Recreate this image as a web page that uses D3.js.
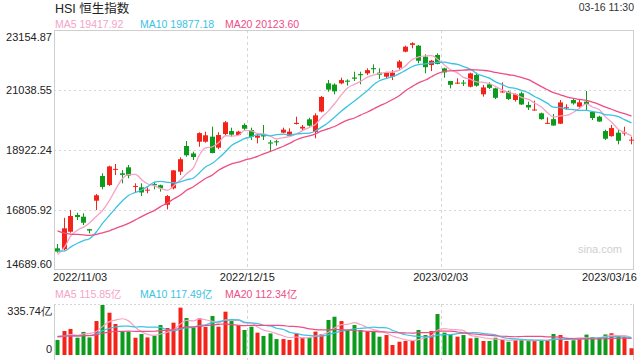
<!DOCTYPE html>
<html><head><meta charset="utf-8">
<script src="https://cdn.jsdelivr.net/npm/d3@7"></script>
<style>
html,body{margin:0;padding:0;background:#fff;}
svg{display:block;font-family:Arial,"Liberation Sans","Noto Sans CJK SC",sans-serif;}
</style></head><body>
<svg id="c" width="640" height="360"></svg>
<script>
const dates = [
"2022/11/03","2022/11/04","2022/11/07","2022/11/08","2022/11/09","2022/11/10","2022/11/11","2022/11/14","2022/11/15","2022/11/16",
"2022/11/17","2022/11/18","2022/11/21","2022/11/22","2022/11/23","2022/11/24","2022/11/25","2022/11/28","2022/11/29","2022/11/30",
"2022/12/01","2022/12/02","2022/12/05","2022/12/06","2022/12/07","2022/12/08","2022/12/09","2022/12/12","2022/12/13","2022/12/14",
"2022/12/15","2022/12/16","2022/12/19","2022/12/20","2022/12/21","2022/12/22","2022/12/23","2022/12/28","2022/12/29","2022/12/30",
"2023/01/03","2023/01/04","2023/01/05","2023/01/06","2023/01/09","2023/01/10","2023/01/11","2023/01/12","2023/01/13","2023/01/16",
"2023/01/17","2023/01/18","2023/01/19","2023/01/20","2023/01/26","2023/01/27","2023/01/30","2023/01/31","2023/02/01","2023/02/02",
"2023/02/03","2023/02/06","2023/02/07","2023/02/08","2023/02/09","2023/02/10","2023/02/13","2023/02/14","2023/02/15","2023/02/16",
"2023/02/17","2023/02/20","2023/02/21","2023/02/22","2023/02/23","2023/02/24","2023/02/27","2023/02/28","2023/03/01","2023/03/02",
"2023/03/03","2023/03/06","2023/03/07","2023/03/08","2023/03/09","2023/03/10","2023/03/13","2023/03/14","2023/03/15","2023/03/16"];

const open = [15455,15420,16040,16630,16570,16130,17134,18005,17688,18230,
18100,18311,17630,17606,17490,17720,17680,16990,17571,18158,
19063,18800,19215,19215,19392,19004,19486,19592,19451,19804,
19627,19356,19470,19190,19230,19533,19420,19840,19680,20004,
19560,20280,21274,21230,21274,21370,21480,21600,21627,21810,
21650,21508,21508,21825,22390,22630,22602,22214,21920,22273,
21802,21356,21270,21300,21155,21567,20886,21239,21097,20960,
20980,20686,20921,20509,20320,20216,19850,20010,19850,20390,
20686,20450,20627,20262,20097,19592,19410,19533,19510,19260];
const high = [15606,16530,16806,16710,16690,16140,17370,18100,18368,18428,
18217,18393,17747,17747,17606,17804,17700,17335,18217,18663,
19239,18862,19546,19568,19745,19546,19945,19709,19600,19863,
19709,19510,19804,19275,19275,19709,19686,20097,19804,20061,
20216,20827,21391,21274,21472,21415,21684,21684,21802,21944,
21802,21684,21744,22097,22602,22720,22626,22297,22097,22332,
21825,21360,21450,21391,21650,21650,21215,21309,21120,21309,
21015,20921,20980,20627,20661,20240,20074,20192,20686,20534,
20720,20686,21003,20274,20130,19640,19804,19651,19745,19392];
const low = [15300,15380,16005,16453,16277,15983,16806,17536,17651,18040,
17747,17924,17416,17300,17395,17536,17453,16830,17536,18040,
18685,18570,19038,19180,18804,18950,19451,19392,19430,19627,
19275,19157,19275,18862,19074,19510,19392,19820,19627,19745,
19334,20251,20980,20886,21240,21192,21356,21239,21567,21627,
21427,21450,21391,21744,22367,22508,21979,21627,21708,21944,
21472,21097,21250,21180,21130,21155,20803,21074,20721,20940,
20686,20627,20509,20333,20310,19990,19840,19780,19840,20350,
20520,20410,20333,19980,19921,19275,19392,19122,19427,19122];
const close = [15339,16161,16595,16557,16358,16081,17325,17619,18343,18256,
18045,18020,17655,17424,17523,17680,17573,17297,18204,18597,
18736,18675,19518,19441,18815,19450,19901,19463,19570,19673,
19380,19430,19400,19150,19192,19640,19570,19880,19741,19781,
20145,20793,21052,20991,21388,21331,21436,21560,21738,21770,
21577,21650,21650,22044,22566,22689,22069,21842,22072,21958,
21660,21222,21298,21283,21624,21190,21130,21113,20763,20987,
20719,20887,20529,20423,20351,20010,19880,19786,20600,20429,
20567,20604,20545,20051,19926,19320,19695,19248,19539,19288];
const volume = [101,161,175,116,155,118,228,335.74,284,208,
161,157,116,141,118,128,201,181,217,318,
248,184,246,188,262,190,291,228,201,168,
190,150,128,145,107,107,101,145,116,116,
157,141,235,257,228,168,201,168,157,157,
123,134,67,89,94,96,168,134,161,275,
150,139,123,134,112,116,94,94,116,101,
89,101,101,94,101,101,94,141,134,94,
99,110,137,120,120,138,146,131,120,45];

// closes / volumes of the 19 sessions before the first candle (used for the moving averages)
const priorCloses = [17740,17216,16832,16701,16389,16587,16612,16914,16512,16280,16211,15180,15165,15430,15427,14863,14687,15455,15827];
const priorVolumes = [118,125,132,120,115,128,122,119,135,126,140,152,130,121,118,112,125,138,110];

const priceTicks = [23154.87, 21038.55, 18922.24, 16805.92, 14689.60];
const volumeTicks = [335.74, 0];
const dateTicks = ["2022/11/03","2022/12/15","2023/02/03","2023/03/16"];
const title = "HSI 恒生指数";
const timeLabel = "03-16 11:30";
const maPeriods = [5, 10, 20];
const priceMALegend = ["19417.92","19877.18","20123.60"];
const volumeMALegend = ["115.85亿","117.49亿","112.34亿"];

const UP = "#f3231a", DOWN = "#0c9b1a";
const MA_COLORS = ["#f5a3c7", "#3bc3e3", "#ee4d86"];
const GRID = "#d6d6d6", BORDER = "#cfcfcf";

const svg = d3.select("#c");
const L = 54, R = 634, PT = 30, PB = 270, VT = 305, VB = 355;

const x = d3.scaleBand().domain(dates).range([L, R]).padding(0);
const bw = x.bandwidth();
const cx = d => Math.round(x(d) + bw / 2);
const y = d3.scaleLinear().domain([14689.60, 23154.87]).range([PB, PT]);
const yv = d3.scaleLinear().domain([0, 335.74]).range([VB, VT]);

function movingAvg(vals, prior, n) {
  const all = prior.concat(vals);
  const off = prior.length;
  return vals.map((v, i) => d3.mean(all.slice(off + i - n + 1, off + i + 1)));
}

const defs = svg.append("defs");
defs.append("clipPath").attr("id", "cp").append("rect").attr("x", L).attr("y", PT).attr("width", R - L).attr("height", PB - PT);
defs.append("clipPath").attr("id", "cv").append("rect").attr("x", L).attr("y", VT - 2).attr("width", R - L).attr("height", 360 - VT + 2);

// ---- header
svg.append("text").attr("x", 55).attr("y", 13).attr("font-size", 12.5).attr("fill", "#222").text(title);
svg.append("text").attr("x", 634).attr("y", 11).attr("text-anchor", "end").attr("font-size", 10.5).attr("fill", "#333").text(timeLabel);
const legX = [55, 140, 225];
maPeriods.forEach((p, k) => {
  svg.append("text").attr("x", legX[k]).attr("y", 28).attr("font-size", 10.5).attr("fill", MA_COLORS[k]).text("MA" + p + " " + priceMALegend[k]);
  svg.append("text").attr("x", legX[k]).attr("y", 298).attr("font-size", 10.5).attr("fill", MA_COLORS[k]).text("MA" + p + " " + volumeMALegend[k]);
});

// ---- grid & frames
const g = svg.append("g");
priceTicks.slice(1, -1).forEach(t => {
  g.append("line").attr("x1", L).attr("x2", R).attr("y1", Math.round(y(t)) + 0.5).attr("y2", Math.round(y(t)) + 0.5)
    .attr("stroke", GRID).attr("stroke-dasharray", "2,3");
});
dateTicks.slice(1, -1).forEach(d => {
  const xx = Math.round(x(d)) + 0.5;
  g.append("line").attr("x1", xx).attr("x2", xx).attr("y1", PT).attr("y2", PB).attr("stroke", GRID).attr("stroke-dasharray", "3,3");
  g.append("line").attr("x1", xx).attr("x2", xx).attr("y1", VT - 1).attr("y2", 360).attr("stroke", GRID).attr("stroke-dasharray", "3,3");
});
g.append("rect").attr("x", L + 0.5).attr("y", PT + 0.5).attr("width", R - L - 1).attr("height", PB - PT - 1)
  .attr("fill", "none").attr("stroke", BORDER);
g.append("line").attr("x1", L).attr("x2", R).attr("y1", VT - 0.5).attr("y2", VT - 0.5).attr("stroke", GRID).attr("stroke-dasharray", "2,2");
g.append("line").attr("x1", L + 0.5).attr("x2", L + 0.5).attr("y1", VT - 1).attr("y2", 360).attr("stroke", BORDER);
g.append("line").attr("x1", R - 0.5).attr("x2", R - 0.5).attr("y1", VT - 1).attr("y2", 360).attr("stroke", BORDER);

svg.append("text").attr("x", 622).attr("y", 253).attr("text-anchor", "end").attr("font-size", 11).attr("fill", "#cfcfcf").text("sina.com");

// ---- axes
const ya = svg.append("g").attr("transform", `translate(${L - 2},0)`)
  .call(d3.axisLeft(y).tickValues(priceTicks).tickFormat(d3.format(".2f")).tickSize(0).tickPadding(0));
ya.select(".domain").remove();
ya.selectAll("text").attr("font-size", 11).attr("fill", "#222").attr("font-family", "Arial,'Liberation Sans',sans-serif")
  .attr("dy", (d, i) => i === 0 ? "0.95em" : (i === priceTicks.length - 1 ? "-0.2em" : "0.32em"));

const xa = svg.append("g").attr("transform", `translate(0,${PB})`)
  .call(d3.axisBottom(x).tickValues(dateTicks).tickSize(0).tickPadding(3));
xa.select(".domain").remove();
xa.selectAll(".tick").attr("transform", (d, i) => {
  const xx = i === 0 ? L - 1 : (i === dateTicks.length - 1 ? 637 : x(d));
  return `translate(${xx},0)`;
});
xa.selectAll("text").attr("font-size", 11).attr("fill", "#222").attr("font-family", "Arial,'Liberation Sans',sans-serif")
  .attr("text-anchor", (d, i) => i === 0 ? "start" : (i === dateTicks.length - 1 ? "end" : "middle"));

const va = svg.append("g").attr("transform", `translate(${L - 2},0)`)
  .call(d3.axisLeft(yv).tickValues(volumeTicks).tickFormat(d => d === 0 ? "0" : d3.format(".2f")(d) + "亿").tickSize(0).tickPadding(0));
va.select(".domain").remove();
va.selectAll("text").attr("font-size", 11).attr("fill", "#222")
  .attr("dy", (d, i) => i === 0 ? "0.85em" : "-0.25em");

// ---- candles
const cg = svg.append("g").attr("clip-path", "url(#cp)");
dates.forEach((d, i) => {
  const col = close[i] >= open[i] ? UP : DOWN;
  const c = cx(d);
  cg.append("line").attr("x1", c + 0.5).attr("x2", c + 0.5).attr("y1", y(high[i])).attr("y2", y(low[i]))
    .attr("stroke", col).attr("stroke-width", 1);
  const top = y(Math.max(open[i], close[i])), bot = y(Math.min(open[i], close[i]));
  cg.append("rect").attr("x", c - 2).attr("width", 5).attr("y", top).attr("height", Math.max(1, bot - top)).attr("fill", col);
});

maPeriods.forEach((p, k) => {
  const m = movingAvg(close, priorCloses, p);
  const line = d3.line().x((v, i) => cx(dates[i]) + 0.5).y(v => y(v)).curve(d3.curveMonotoneX);
  cg.append("path").attr("d", line(m)).attr("fill", "none").attr("stroke", MA_COLORS[k]).attr("stroke-width", 1.3);
});

// ---- volume
const vg = svg.append("g").attr("clip-path", "url(#cv)");
dates.forEach((d, i) => {
  vg.append("rect").attr("x", cx(d) - 1.5).attr("width", 4).attr("y", yv(volume[i])).attr("height", VB - yv(volume[i]))
    .attr("fill", close[i] >= open[i] ? UP : DOWN);
});
maPeriods.forEach((p, k) => {
  const m = movingAvg(volume, priorVolumes, p);
  const line = d3.line().x((v, i) => cx(dates[i]) + 0.5).y(v => yv(v)).curve(d3.curveMonotoneX);
  vg.append("path").attr("d", line(m)).attr("fill", "none").attr("stroke", MA_COLORS[k]).attr("stroke-width", 1.2);
});
</script>
</body></html>
